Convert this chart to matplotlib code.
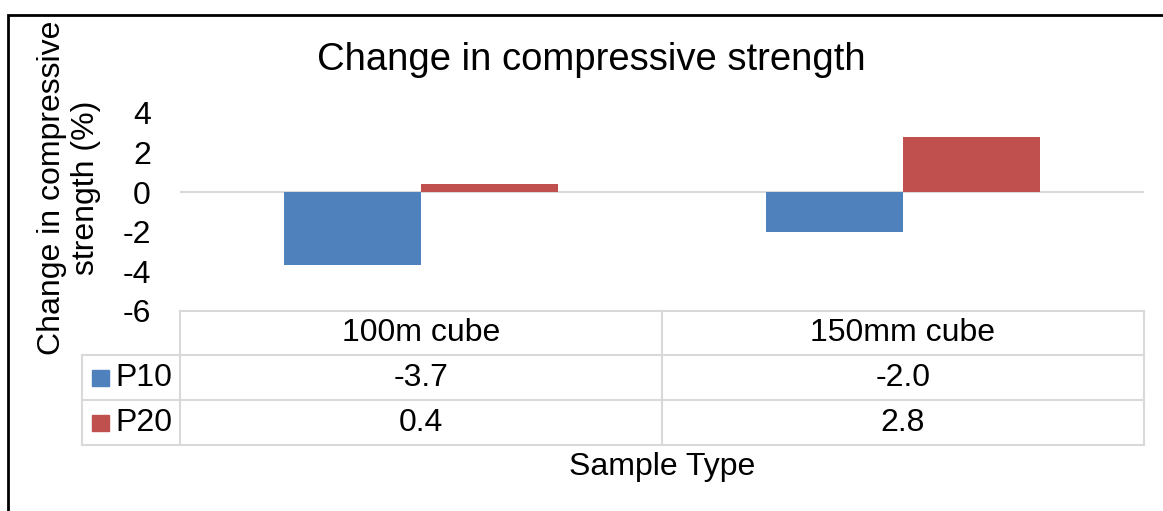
import matplotlib.pyplot as plt
from matplotlib.patches import Rectangle

# data
categories = ["100m cube", "150mm cube"]
series = ["P10", "P20"]
p10 = [-3.7, -2.0]
p20 = [0.4, 2.8]
colors = ["#4F81BD", "#C0504D"]
yticks = [4, 2, 0, -2, -4, -6]

plt.rcParams['font.family'] = ['Liberation Sans', 'DejaVu Sans']

W, H = 1163, 511
fig = plt.figure(figsize=(W / 100, H / 100), dpi=100)

def fx(px):
    return px / W

def fy(py):
    return 1 - py / H

# outer frame (only left/top visible in reference)
fig.add_artist(Rectangle((fx(8), fy(600)), fx(1300), fy(15) - fy(600),
                         transform=fig.transFigure, fill=False,
                         edgecolor="black", linewidth=2))

x0, x1, ytop, ybot = 180, 1144, 113, 311
ax = fig.add_axes([fx(x0), fy(ybot), fx(x1) - fx(x0), fy(ytop) - fy(ybot)])

bw = 0.285
xs = list(range(len(categories)))
ax.bar([x - bw / 2 for x in xs], p10, width=bw, color=colors[0], zorder=3)
ax.bar([x + bw / 2 for x in xs], p20, width=bw, color=colors[1], zorder=3)
ax.axhline(0, color="#d9d9d9", linewidth=1.5, zorder=2)

ax.set_xlim(-0.5, 1.5)
ax.set_ylim(-6, 4)
ax.set_yticks(yticks)
ax.set_yticklabels([str(t) for t in yticks], fontsize=23)
ax.tick_params(axis='y', length=0, pad=21)
ax.set_xticks([])
for s in ax.spines.values():
    s.set_visible(False)

fig.text(fx(591), fy(60), "Change in compressive strength", fontsize=27.5,
         ha="center", va="center")

# data table under the axes
grid_c = "#d9d9d9"
rows_y = [311, 355, 400, 445]
left_px = 82

def line(xa, ya, xb, yb):
    fig.add_artist(plt.Line2D([fx(xa), fx(xb)], [fy(ya), fy(yb)],
                              transform=fig.transFigure, color=grid_c,
                              linewidth=1.5))

col_px = [x0, (x0 + x1) / 2, x1]
# horizontal lines
line(x0, rows_y[0], x1, rows_y[0])
for y in rows_y[1:]:
    line(left_px, y, x1, y)
# vertical lines
line(left_px, rows_y[1], left_px, rows_y[3])
for x in col_px:
    line(x, rows_y[0], x, rows_y[3])

for i, cat in enumerate(categories):
    cx = (col_px[i] + col_px[i + 1]) / 2
    fig.text(fx(cx), fy((rows_y[0] + rows_y[1]) / 2), cat, fontsize=23,
             ha="center", va="center")

vals = [p10, p20]
for r, name in enumerate(series):
    cy = (rows_y[r + 1] + rows_y[r + 2]) / 2
    fig.add_artist(Rectangle((fx(92), fy(cy + 8)), fx(17), fy(cy - 8) - fy(cy + 8),
                             transform=fig.transFigure, color=colors[r]))
    fig.text(fx(115), fy(cy), name, fontsize=23, ha="left", va="center")
    for i in range(len(categories)):
        cx = (col_px[i] + col_px[i + 1]) / 2
        fig.text(fx(cx), fy(cy), f"{vals[r][i]:.1f}", fontsize=23,
                 ha="center", va="center")

fig.text(fx(662), fy(467), "Sample Type", fontsize=23, ha="center", va="center")
fig.text(fx(69), fy(188), "Change in compressive\nstrength (%)", fontsize=23,
         ha="center", va="center", rotation=90, linespacing=1.15)

fig.savefig("out.png", dpi=100)
